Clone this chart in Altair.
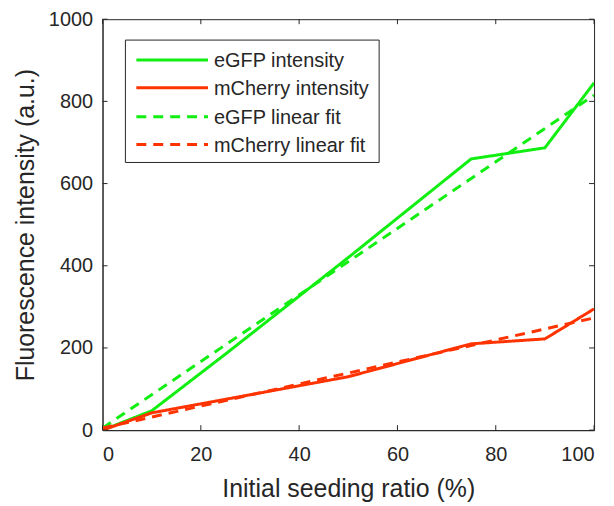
import altair as alt
import pandas as pd

# ---- data ----
ratio = [0, 10, 25, 50, 75, 90, 100]
egfp = [0, 47, 185, 420, 660, 687, 845]
mcherry = [0, 42, 75, 130, 210, 222, 295]
fit_x = [0, 100]
egfp_fit = [5, 815]
mcherry_fit = [5, 273]

x_ticks = [0, 20, 40, 60, 80, 100]
y_ticks = [0, 200, 400, 600, 800, 1000]

series_order = ["eGFP intensity", "mCherry intensity", "eGFP linear fit", "mCherry linear fit"]
series_colors = ["#11ee11", "#ff3300", "#11ee11", "#ff3300"]
series_dash = [[1, 0], [1, 0], [10, 7], [10, 7]]

rows = []
for x, y in zip(ratio, egfp):
    rows.append({"ratio": x, "value": y, "series": "eGFP intensity"})
for x, y in zip(ratio, mcherry):
    rows.append({"ratio": x, "value": y, "series": "mCherry intensity"})
for x, y in zip(fit_x, egfp_fit):
    rows.append({"ratio": x, "value": y, "series": "eGFP linear fit"})
for x, y in zip(fit_x, mcherry_fit):
    rows.append({"ratio": x, "value": y, "series": "mCherry linear fit"})
df = pd.DataFrame(rows)

W, H = 494, 413
FONT = "Liberation Sans"
INK = "#262626"

xscale = alt.Scale(domain=[0, 100], nice=False)
yscale = alt.Scale(domain=[0, 1000], nice=False)

lines = alt.Chart(df).mark_line(strokeWidth=3, clip=True).encode(
    x=alt.X("ratio:Q", scale=xscale,
            axis=alt.Axis(values=x_ticks, title="Initial seeding ratio (%)", ticks=False,
                          labelPadding=15, titlePadding=12, grid=False)),
    y=alt.Y("value:Q", scale=yscale,
            axis=alt.Axis(values=y_ticks, title="Fluorescence intensity (a.u.)", ticks=False,
                          format="d", labelPadding=10, titlePadding=10, grid=False)),
    color=alt.Color("series:N", scale=alt.Scale(domain=series_order, range=series_colors),
                    legend=None),
    strokeDash=alt.StrokeDash("series:N", scale=alt.Scale(domain=series_order, range=series_dash),
                              legend=None),
    order=alt.Order("ratio:Q"),
)

xt = pd.DataFrame({"t": x_ticks})
yt = pd.DataFrame({"t": y_ticks})

bottom_ticks = alt.Chart(xt).mark_rule(color=INK, strokeWidth=1).encode(
    x=alt.X("t:Q", scale=xscale), y=alt.value(H), y2=alt.value(H - 5))
top_ticks = alt.Chart(xt).mark_rule(color=INK, strokeWidth=1).encode(
    x=alt.X("t:Q", scale=xscale), y=alt.value(0), y2=alt.value(5))
left_ticks = alt.Chart(yt).mark_rule(color=INK, strokeWidth=1).encode(
    y=alt.Y("t:Q", scale=yscale), x=alt.value(0), x2=alt.value(5))
right_ticks = alt.Chart(yt).mark_rule(color=INK, strokeWidth=1).encode(
    y=alt.Y("t:Q", scale=yscale), x=alt.value(W), x2=alt.value(W - 5))

# ---- manual legend (MATLAB style box) ----
one = pd.DataFrame({"k": [0]})
legend_layers = [
    alt.Chart(one).mark_rect(fill="white", stroke=INK, strokeWidth=1).encode(
        x=alt.value(23), x2=alt.value(278), y=alt.value(21), y2=alt.value(144))
]
row_y = [41, 69, 98, 126]
for name, col, dash, yy in zip(series_order, series_colors, series_dash, row_y):
    legend_layers.append(
        alt.Chart(one).mark_rule(color=col, strokeWidth=3, strokeDash=dash).encode(
            x=alt.value(34), x2=alt.value(106), y=alt.value(yy)))
    legend_layers.append(
        alt.Chart(one).mark_text(align="left", baseline="middle", font=FONT, fontSize=20,
                                 color=INK).encode(
            x=alt.value(112), y=alt.value(yy + 1), text=alt.value(name)))

chart = alt.layer(lines, bottom_ticks, top_ticks, left_ticks, right_ticks,
                  *legend_layers).properties(
    width=W, height=H,
    padding={"left": 95, "top": 10, "right": 12, "bottom": 75},
    autosize="none",
    background="white",
).configure_view(
    stroke=INK, strokeWidth=1
).configure_axis(
    labelFont=FONT, labelFontSize=20, labelColor=INK,
    titleFont=FONT, titleFontSize=25, titleFontWeight="normal", titleColor=INK,
    domainColor=INK, domainWidth=1,
)

chart.save("out.html", embed_options={"renderer": "svg", "actions": False})
